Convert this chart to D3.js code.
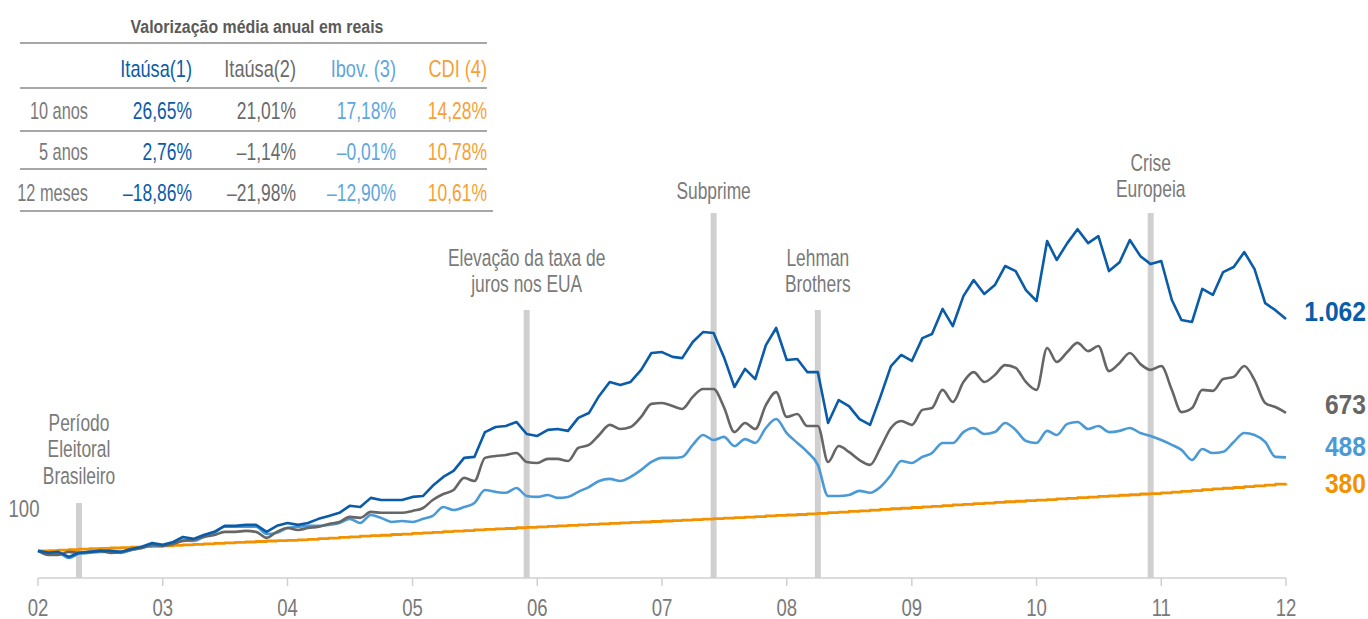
<!DOCTYPE html>
<html><head><meta charset="utf-8">
<script src="https://cdn.jsdelivr.net/npm/d3@7"></script>
<style>
html,body{margin:0;padding:0;background:#fff;}
svg{display:block;font-family:"Liberation Sans",Arial,sans-serif;}
</style></head>
<body><svg id="c" width="1368" height="619"></svg>
<script>
// ---- data (monthly index, base 100 = Jan 2002) ----
const itausa1 = [100,92,96,75,92,96,100,100,96,108,117,133,
125,137,158,150,166,179,204,204,208,208,179,204,
216,208,216,233,245,258,287,282,320,311,311,311,
324,328,370,407,432,486,490,593,614,618,635,585,
577,602,606,598,652,672,743,801,788,801,851,921,
925,905,900,967,1008,1004,905,780,855,813,954,1025,
892,896,842,842,631,726,701,647,623,739,867,913,
888,983,1000,1104,1033,1157,1224,1166,1203,1282,1261,1182,
1137,1386,1307,1377,1435,1377,1406,1261,1298,1390,1323,1290,
1303,1141,1058,1050,1187,1162,1257,1278,1340,1269,1128,1099,
1062];
const itausa2 = [100,83,83,96,92,96,100,92,96,104,112,125,
121,129,141,146,158,166,179,179,183,179,154,179,
195,187,195,200,212,220,241,237,262,258,258,258,
266,278,311,336,353,403,390,486,494,498,506,469,
465,482,482,473,527,540,581,623,606,614,656,710,
714,701,689,739,772,772,697,593,631,606,705,759,
656,668,618,618,469,535,511,477,457,527,610,639,
623,685,693,768,718,801,842,801,830,871,859,801,
768,942,884,925,963,929,950,846,880,921,875,851,
867,768,676,693,768,764,813,822,867,809,714,697,
673];
const ibov = [100,92,92,71,88,92,96,96,92,104,112,121,
121,133,146,141,158,175,200,200,200,200,170,175,
195,200,204,204,208,216,233,216,249,237,220,224,
220,233,245,282,270,282,299,353,345,341,361,328,
324,332,320,324,345,365,390,399,390,407,436,469,
486,486,490,540,581,560,573,535,564,548,610,647,
589,548,511,457,328,328,332,349,341,365,415,473,
465,490,506,548,548,593,610,585,593,631,602,556,
548,598,581,627,635,606,618,593,598,610,589,577,
560,540,519,477,523,506,511,552,589,581,552,490,
488];
const cdi = [100,101,103,105,107,109,110,112,114,116,118,119,
121,123,125,127,129,131,133,135,137,139,141,143,
144,146,148,151,153,156,158,161,163,165,168,170,
173,175,177,180,182,184,187,189,191,193,196,198,
200,202,204,206,208,210,212,214,216,218,220,222,
224,226,228,230,232,234,236,238,240,242,245,247,
249,251,254,256,259,261,264,266,269,272,275,277,
280,283,285,288,291,293,296,298,301,304,306,309,
311,313,316,318,321,323,326,328,331,333,336,338,
341,344,347,350,354,357,360,363,367,370,373,377,
380];
const endLabels = ["1.062","673","488","380"];
const yearTicks = ["02","03","04","05","06","07","08","09","10","11","12"];
const events = [
  {month: 4,   lines: ["Período","Eleitoral","Brasileiro"]},
  {month: 47,  lines: ["Elevação da taxa de","juros nos EUA"]},
  {month: 65,  lines: ["Subprime"]},
  {month: 75,  lines: ["Lehman","Brothers"]},
  {month: 107, lines: ["Crise","Europeia"]}
];
const tableTitle = "Valorização média anual em reais";
const tableCols = ["Itaúsa(1)","Itaúsa(2)","Ibov. (3)","CDI (4)"];
const tableRows = ["10 anos","5 anos","12 meses"];
const tableVals = [
  ["26,65%","21,01%","17,18%","14,28%"],
  ["2,76%","–1,14%","–0,01%","10,78%"],
  ["–18,86%","–21,98%","–12,90%","10,61%"]
];

// ---- styling ----
const C_DB = "#0b5ca8", C_GR = "#666666", C_LB = "#4b9ad6", C_OR = "#f39200";
const colColors = [C_DB, "#6a6a6a", "#5ea6dd", "#f7a035"];
const txtGray = "#7a7a7a";

const svg = d3.select("#c");
const date = i => new Date(2002, i, 1);
const x = d3.scaleTime().domain([date(0), date(120)]).range([38, 1286]);
const y = d3.scaleLinear().domain([0, 1000]).range([575, 334]);

// condensed text helper
function txt(g, px, py, s, o) {
  return g.append("text")
    .attr("transform", `translate(${px},${py}) scale(${o.sx},1)`)
    .attr("text-anchor", o.anchor || "middle")
    .attr("font-size", o.size).attr("font-weight", o.weight || "normal")
    .attr("fill", o.fill || txtGray).text(s);
}

// event bars (behind lines)
const evLayout = [
  {top: 503, labelY: 422},
  {top: 310, labelY: 257},
  {top: 213, labelY: 190},
  {top: 310, labelY: 257},
  {top: 213, labelY: 162}
];
events.forEach((e, k) => {
  const L = evLayout[k];
  svg.append("rect").attr("x", x(date(e.month)) - 3).attr("y", L.top)
    .attr("width", 6).attr("height", 578 - L.top).attr("fill", "#d0d0d0");
  e.lines.forEach((ln, j) => {
    txt(svg, x(date(e.month)), L.labelY + 8.5 + j * 26.5, ln, {size: 23.5, sx: 0.74});
  });
});

// axis
const axisG = svg.append("g").attr("transform", "translate(0,578)");
axisG.append("line").attr("x1", 38).attr("x2", 1286).attr("stroke", "#d0d0d0").attr("stroke-width", 1.5);
yearTicks.forEach((lab, k) => {
  const xx = x(date(k * 12));
  axisG.append("line").attr("x1", xx).attr("x2", xx).attr("y1", 0).attr("y2", 8)
    .attr("stroke", "#d0d0d0").attr("stroke-width", 1.5);
  txt(axisG, xx, 37.5, lab, {size: 23.5, sx: 0.79});
});

txt(svg, 24, 516.5, "100", {size: 23.5, sx: 0.79});

// lines
function draw(arr, color, curve, w) {
  const line = d3.line().x((d, i) => x(date(i))).y(d => y(d)).curve(curve);
  svg.append("path").datum(arr).attr("d", line).attr("fill", "none")
    .attr("stroke", color).attr("stroke-width", w).attr("stroke-linejoin", "round");
}
draw(cdi, C_OR, d3.curveStepAfter, 2.8);
draw(ibov, C_LB, d3.curveMonotoneX, 2.6);
draw(itausa2, C_GR, d3.curveMonotoneX, 2.6);
draw(itausa1, C_DB, d3.curveLinear, 2.6);

// end labels
const series = [itausa1, itausa2, ibov, cdi];
const endColors = [C_DB, C_GR, C_LB, C_OR];
const endDy = [-8, -9, -11, 0];
series.forEach((s, k) => {
  txt(svg, 1366, y(s[s.length - 1]) + endDy[k] + 10, endLabels[k],
      {size: 28, sx: 0.88, anchor: "end", weight: "bold", fill: endColors[k]});
});

// table
txt(svg, 257, 33, tableTitle, {size: 18.5, sx: 0.86, weight: "bold", fill: "#5a5a5a"});
[[43, 487], [88, 487], [131, 487], [169, 487], [211, 493]].forEach(([yy, x2]) => {
  svg.append("line").attr("x1", 20).attr("x2", x2).attr("y1", yy).attr("y2", yy)
    .attr("stroke", "#8a8a8a").attr("stroke-width", 1.3);
});
const colRight = [192, 296, 396, 487];
tableCols.forEach((c, k) => {
  txt(svg, colRight[k], 76.5, c, {size: 23, sx: 0.79, anchor: "end", fill: colColors[k]});
});
tableRows.forEach((r, j) => {
  const yy = 118.5 + j * 41;
  txt(svg, 88, yy, r, {size: 23, sx: 0.71, anchor: "end"});
  tableVals[j].forEach((v, k) => {
    txt(svg, colRight[k], yy, v, {size: 23, sx: 0.76, anchor: "end", fill: colColors[k]});
  });
});
</script></body></html>
